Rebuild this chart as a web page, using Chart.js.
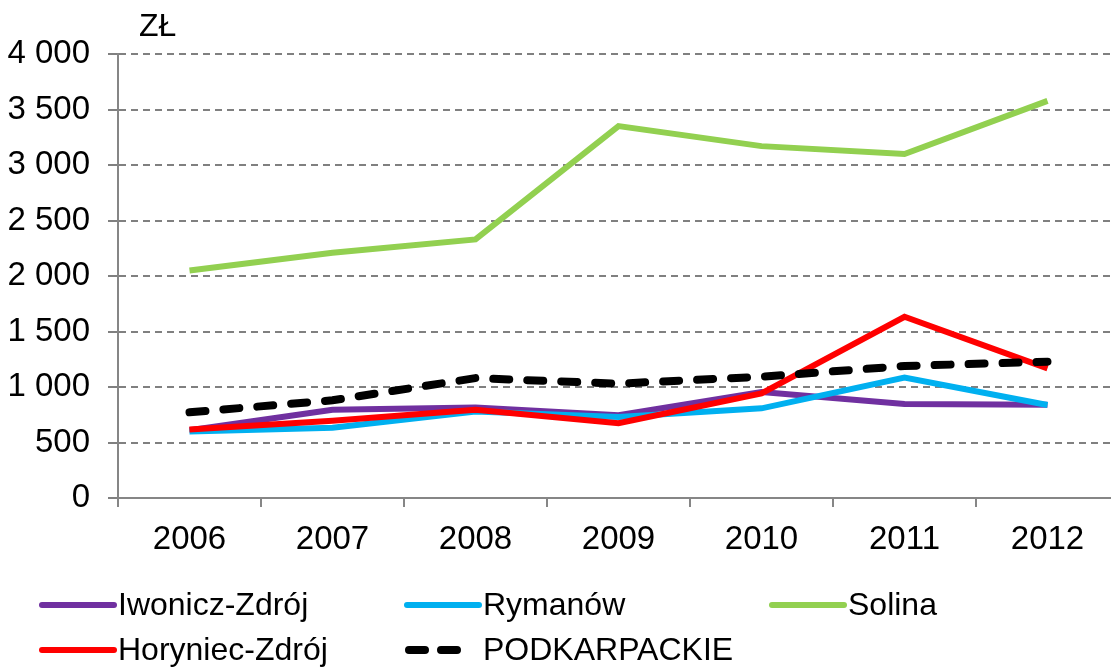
<!DOCTYPE html>
<html>
<head>
<meta charset="utf-8">
<script src="https://cdn.jsdelivr.net/npm/chart.js@4.4.0/dist/chart.umd.min.js"></script>
<style>
	html, body { margin: 0; padding: 0; background: #fff; overflow: hidden; }
	#wrap { width: 1130px; height: 667px; }
</style>
</head>
<body>
<div id="wrap"><canvas id="line-chart" width="1130" height="667"></canvas></div>
<script>
const years = ['2006', '2007', '2008', '2009', '2010', '2011', '2012'];
const seriesNames = ['Iwonicz-Zdrój', 'Rymanów', 'Solina', 'Horyniec-Zdrój', 'PODKARPACKIE'];
const iwonicz = [610, 795, 815, 745, 955, 847, 840];
const rymanow = [598, 632, 780, 730, 808, 1084, 838];
const solina = [2050, 2210, 2330, 3350, 3170, 3099, 3578];
const horyniec = [618, 695, 795, 673, 943, 1633, 1168];
const podkarpackie = [772, 880, 1080, 1030, 1093, 1189, 1228];
const yTicks = [0, 500, 1000, 1500, 2000, 2500, 3000, 3500, 4000];
const unitLabel = 'ZŁ';

const colors = ['#7030A0', '#00B0F0', '#92D050', '#FF0000', '#000000'];
const FONT = '"Liberation Sans", Arial, sans-serif';

function fmt(v) {
	return String(v).replace(/\B(?=(\d{3})+(?!\d))/g, ' ');
}

// legenda w dwóch wierszach, rysowana ręcznie
const legendPlugin = {
	id: 'customLegend',
	afterDraw(chart) {
		const ctx = chart.ctx;
		ctx.save();
		// jednostka nad osią Y
		ctx.font = '32px ' + FONT;
		ctx.fillStyle = '#000';
		ctx.textAlign = 'left';
		ctx.textBaseline = 'middle';
		ctx.fillText(unitLabel, 139, 27);

		const cols = [40, 405, 770];
		const rows = [605, 650];
		chart.data.datasets.forEach((ds, i) => {
			const x = cols[i % 3];
			const y = rows[Math.floor(i / 3)];
			ctx.beginPath();
			ctx.strokeStyle = ds.borderColor;
			ctx.lineCap = 'round';
			if (ds.borderDash) {
				ctx.lineWidth = 8;
				ctx.setLineDash([16, 16]);
				ctx.moveTo(x + 4, y);
				ctx.lineTo(x + 52, y);
			} else {
				ctx.lineWidth = 6;
				ctx.moveTo(x + 2, y);
				ctx.lineTo(x + 74, y);
			}
			ctx.stroke();
			ctx.setLineDash([]);
			ctx.font = '32px ' + FONT;
			ctx.fillStyle = '#000';
			ctx.fillText(ds.label, x + 78, y + 1);
		});
		ctx.restore();
	}
};

const allData = [iwonicz, rymanow, solina, horyniec, podkarpackie];

const datasets = seriesNames.map((name, i) => {
	const ds = {
		label: name,
		data: allData[i],
		borderColor: colors[i],
		backgroundColor: colors[i],
		borderWidth: 6,
		pointRadius: 0,
		tension: 0,
		fill: false,
		order: seriesNames.length - 1 - i,
	};
	if (name === 'PODKARPACKIE') {
		ds.borderWidth = 8;
		ds.borderDash = [16, 18];
		ds.borderCapStyle = 'round';
	}
	return ds;
});

const ctx = document.getElementById('line-chart').getContext('2d');
new Chart(ctx, {
	type: 'line',
	data: { labels: years, datasets: datasets },
	options: {
		responsive: false,
		animation: false,
		devicePixelRatio: 1,
		layout: { padding: { top: 54, right: 11, bottom: 109, left: 0 } },
		plugins: {
			legend: { display: false },
			tooltip: { enabled: false },
		},
		scales: {
			x: {
				offset: true,
				grid: {
					offset: true,
					drawOnChartArea: false,
					tickLength: 9,
					color: '#868686',
					lineWidth: 2,
				},
				border: { color: '#868686', width: 2 },
				ticks: {
					color: '#000',
					padding: 13,
					font: { family: FONT, size: 33 },
					maxRotation: 0,
				},
				afterFit(scale) { scale.height = 60; },
			},
			y: {
				min: 0,
				max: 4000,
				afterBuildTicks(scale) {
					scale.ticks = yTicks.map(v => ({ value: v }));
				},
				grid: {
					color: '#808080',
					lineWidth: 2,
					tickLength: 10,
					tickBorderDash: [],
				},
				border: { display: true, color: '#868686', width: 2, dash: [7, 5] },
				ticks: {
					color: '#000',
					padding: 18,
					font: { family: FONT, size: 33 },
					callback: (v) => fmt(v),
				},
				afterFit(scale) { scale.width = 118; },
			},
		},
	},
	plugins: [legendPlugin],
});
</script>
</body>
</html>
